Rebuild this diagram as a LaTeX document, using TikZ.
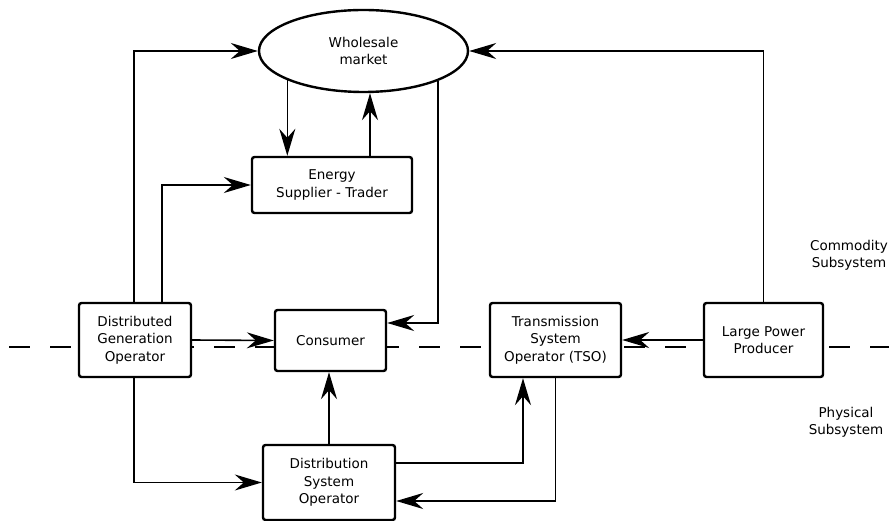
\documentclass[tikz,border=0pt]{standalone}
\usepackage{tikz}
\usepackage{xcolor}
\usepackage{fontspec}
\setmainfont{DejaVu Sans}
\usetikzlibrary{shapes.geometric,arrows.meta}

\begin{document}
\begin{tikzpicture}[x=1pt,y=-1pt,
  box/.style={draw, line width=2.4pt, rounded corners=2.5pt, fill=white, align=center,
    inner sep=0pt, font=\fontsize{13.5}{17.5}\selectfont},
  flow/.style={line width=1.6pt, -{Stealth[length=27pt,width=16pt,inset=9pt]}},
  label/.style={align=center, font=\fontsize{13.5}{17}\selectfont}]
  % Fix the size of the picture
  \useasboundingbox (0,0) rectangle (889,521);

  % Draw the dashed border between the two subsystems
  \coordinate (left) at (9,347);
  \coordinate (right) at (889,347);
  \draw[line width=2.4pt, dash pattern=on 21pt off 20pt] (left) -- (right);

  % Place the market and the actors
  \node[box, ellipse, rounded corners=0pt, minimum width=209pt, minimum height=82pt] (market) at (363.5,51) {Wholesale\\market};
  \node[box, minimum width=160pt, minimum height=56pt] (supplier) at (332,185) {Energy\\Supplier - Trader};
  \node[box, minimum width=112pt, minimum height=74pt] (dgo) at (135,340) {Distributed\\Generation\\Operator};
  \node[box, minimum width=111pt, minimum height=61pt] (consumer) at (330.5,340.5) {Consumer};
  \node[box, minimum width=131pt, minimum height=74pt] (tso) at (555.5,340) {Transmission\\System\\Operator (TSO)};
  \node[box, minimum width=119pt, minimum height=74pt] (producer) at (763.5,340) {Large Power\\Producer};
  \node[box, minimum width=132pt, minimum height=75pt] (dso) at (329,482.5) {Distribution\\System\\Operator};

  % Subsystem names
  \node[label] (commodity) at (849,255) {Commodity\\Subsystem};
  \node[label] (physical) at (846,422) {Physical\\Subsystem};

  % Connectors of the commodity subsystem
  \draw[flow] ([xshift=-1pt]dgo.north) |- (market.west);
  \draw[flow] ([xshift=27pt]dgo.north) |- (supplier.west);
  \draw[flow] (market.201.5) -- (market.201.5 |- supplier.north);
  \draw[flow] ([xshift=38pt]supplier.north) -- ([xshift=38pt]supplier.north |- market.south);
  \draw[flow] (market.338) |- ([yshift=17.5pt]consumer.east);
  \draw[flow] (producer.north) |- (market.east);

  % Connectors of the physical subsystem
  \draw[flow] (dgo.east) -- (consumer.west);
  \draw[flow] (producer.west) -- (tso.east);
  \draw[flow] ([xshift=-1pt]dgo.south) |- (dso.west);
  \draw[flow] (dso.north) -- (dso.north |- consumer.south);
  \draw[flow] ([yshift=19.5pt]dso.east) -| ([xshift=-32.5pt]tso.south);
  \draw[flow] (tso.south) |- ([yshift=-18.5pt]dso.east);
\end{tikzpicture}
\end{document}
